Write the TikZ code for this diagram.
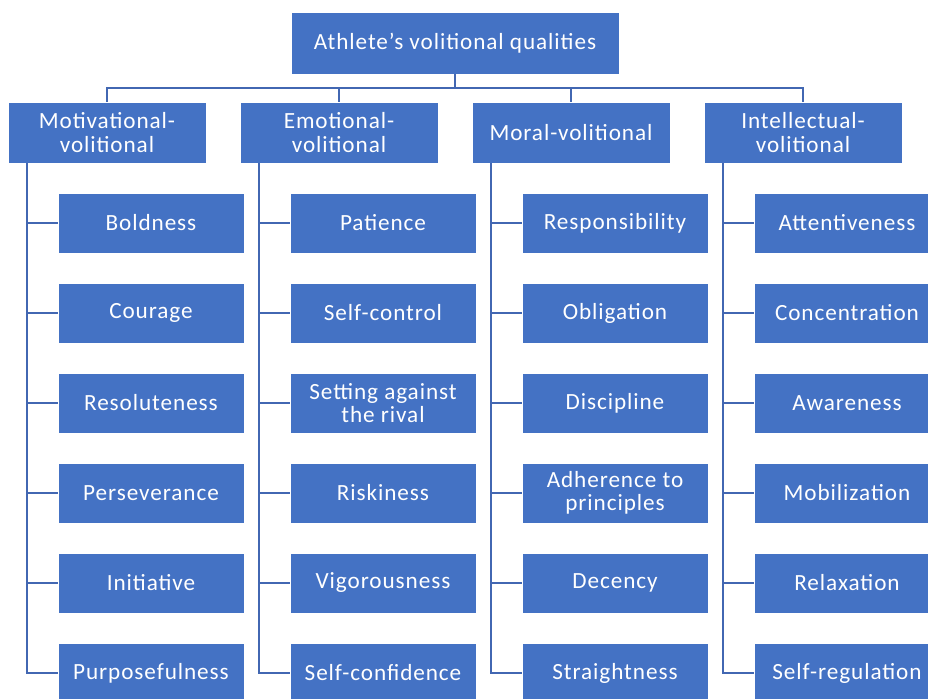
\documentclass[tikz,border=0pt]{standalone}
\usepackage{fontspec}
\setmainfont[LetterSpace=4]{Carlito}
\usepackage{tikz}
\usetikzlibrary{
  positioning,
  calc
}
\definecolor{caixa}{RGB}{68,114,196}
\definecolor{traco}{RGB}{66,103,178}

\begin{document}
\begin{tikzpicture}[
      quality/.style={fill=caixa, draw=white, line width=0.4pt, text=white,
                      align=center, font=\fontsize{16.5}{16.5}\selectfont},
      group/.style={quality, minimum width=4.95cm, minimum height=1.525cm},
      trait/.style={quality, minimum width=4.65cm, minimum height=1.5cm},
      link/.style={draw=traco, line width=1.4pt}
  ]
      \useasboundingbox (0,0) rectangle (23.2,-17.45);
      \clip (0,0) rectangle (23.2,-17.45);

      % --- TOPO ---
      \node[quality, minimum width=8.2cm, minimum height=1.55cm] (root) at (11.375,-1.075) {Athlete’s volitional qualities};
      \coordinate (bus) at (0,-2.2);

      % --- COLUNA 1 ---
      \begin{scope}[xshift=0.2cm]
          \node[group] (g1) at (2.475,-3.3125) {Motivational-\\volitional};
          \coordinate (s1) at (0.475,-4.075);
          \node[trait] (bo1) at (3.575,-5.575)  {Boldness};
          \node[trait] (cu1) at (3.575,-7.825)  {Courage};
          \node[trait] (re1) at (3.575,-10.075) {Resoluteness};
          \node[trait] (pe1) at (3.575,-12.325) {Perseverance};
          \node[trait] (in1) at (3.575,-14.575) {Initiative};
          \node[trait] (pu1) at (3.575,-16.825) {Purposefulness};
          \draw[link] (s1) |- (pu1.west);
          \draw[link] (bo1.west) -- (bo1.west -| s1); \draw[link] (cu1.west) -- (cu1.west -| s1); \draw[link] (re1.west) -- (re1.west -| s1); \draw[link] (pe1.west) -- (pe1.west -| s1); \draw[link] (in1.west) -- (in1.west -| s1);
      \end{scope}

      % --- COLUNA 2 ---
      \begin{scope}[xshift=6.0cm]
          \node[group] (g2) at (2.475,-3.3125) {Emotional-\\volitional};
          \coordinate (s2) at (0.475,-4.075);
          \node[trait] (pa2) at (3.575,-5.575)  {Patience};
          \node[trait] (sc2) at (3.575,-7.825)  {Self-control};
          \node[trait] (sa2) at (3.575,-10.075) {Setting against\\the rival};
          \node[trait] (ri2) at (3.575,-12.325) {Riskiness};
          \node[trait] (vi2) at (3.575,-14.575) {Vigorousness};
          \node[trait] (cf2) at (3.575,-16.825) {Self-confidence};
          \draw[link] (s2) |- (cf2.west);
          \draw[link] (pa2.west) -- (pa2.west -| s2); \draw[link] (sc2.west) -- (sc2.west -| s2); \draw[link] (sa2.west) -- (sa2.west -| s2); \draw[link] (ri2.west) -- (ri2.west -| s2); \draw[link] (vi2.west) -- (vi2.west -| s2);
      \end{scope}

      % --- COLUNA 3 ---
      \begin{scope}[xshift=11.8cm]
          \node[group] (g3) at (2.475,-3.3125) {Moral-volitional};
          \coordinate (s3) at (0.475,-4.075);
          \node[trait] (rs3) at (3.575,-5.575)  {Responsibility};
          \node[trait] (ob3) at (3.575,-7.825)  {Obligation};
          \node[trait] (di3) at (3.575,-10.075) {Discipline};
          \node[trait] (ad3) at (3.575,-12.325) {Adherence to\\principles};
          \node[trait] (de3) at (3.575,-14.575) {Decency};
          \node[trait] (st3) at (3.575,-16.825) {Straightness};
          \draw[link] (s3) |- (st3.west);
          \draw[link] (rs3.west) -- (rs3.west -| s3); \draw[link] (ob3.west) -- (ob3.west -| s3); \draw[link] (di3.west) -- (di3.west -| s3); \draw[link] (ad3.west) -- (ad3.west -| s3); \draw[link] (de3.west) -- (de3.west -| s3);
      \end{scope}

      % --- COLUNA 4 ---
      \begin{scope}[xshift=17.6cm]
          \node[group] (g4) at (2.475,-3.3125) {Intellectual-\\volitional};
          \coordinate (s4) at (0.475,-4.075);
          \node[trait] (at4) at (3.575,-5.575)  {Attentiveness};
          \node[trait] (co4) at (3.575,-7.825)  {Concentration};
          \node[trait] (aw4) at (3.575,-10.075) {Awareness};
          \node[trait] (mo4) at (3.575,-12.325) {Mobilization};
          \node[trait] (rl4) at (3.575,-14.575) {Relaxation};
          \node[trait] (sr4) at (3.575,-16.825) {Self-regulation};
          \draw[link] (s4) |- (sr4.west);
          \draw[link] (at4.west) -- (at4.west -| s4); \draw[link] (co4.west) -- (co4.west -| s4); \draw[link] (aw4.west) -- (aw4.west -| s4); \draw[link] (mo4.west) -- (mo4.west -| s4); \draw[link] (rl4.west) -- (rl4.west -| s4);
      \end{scope}

      % --- LIGAÇÕES AO TOPO ---
      \draw[link] (root.south) -- (root.south |- bus);
      \draw[link] (g1.north) -- (g1.north |- bus) -- (g4.north |- bus) -- (g4.north);
      \draw[link] (g2.north) -- (g2.north |- bus); \draw[link] (g3.north) -- (g3.north |- bus);

  \end{tikzpicture}
\end{document}
